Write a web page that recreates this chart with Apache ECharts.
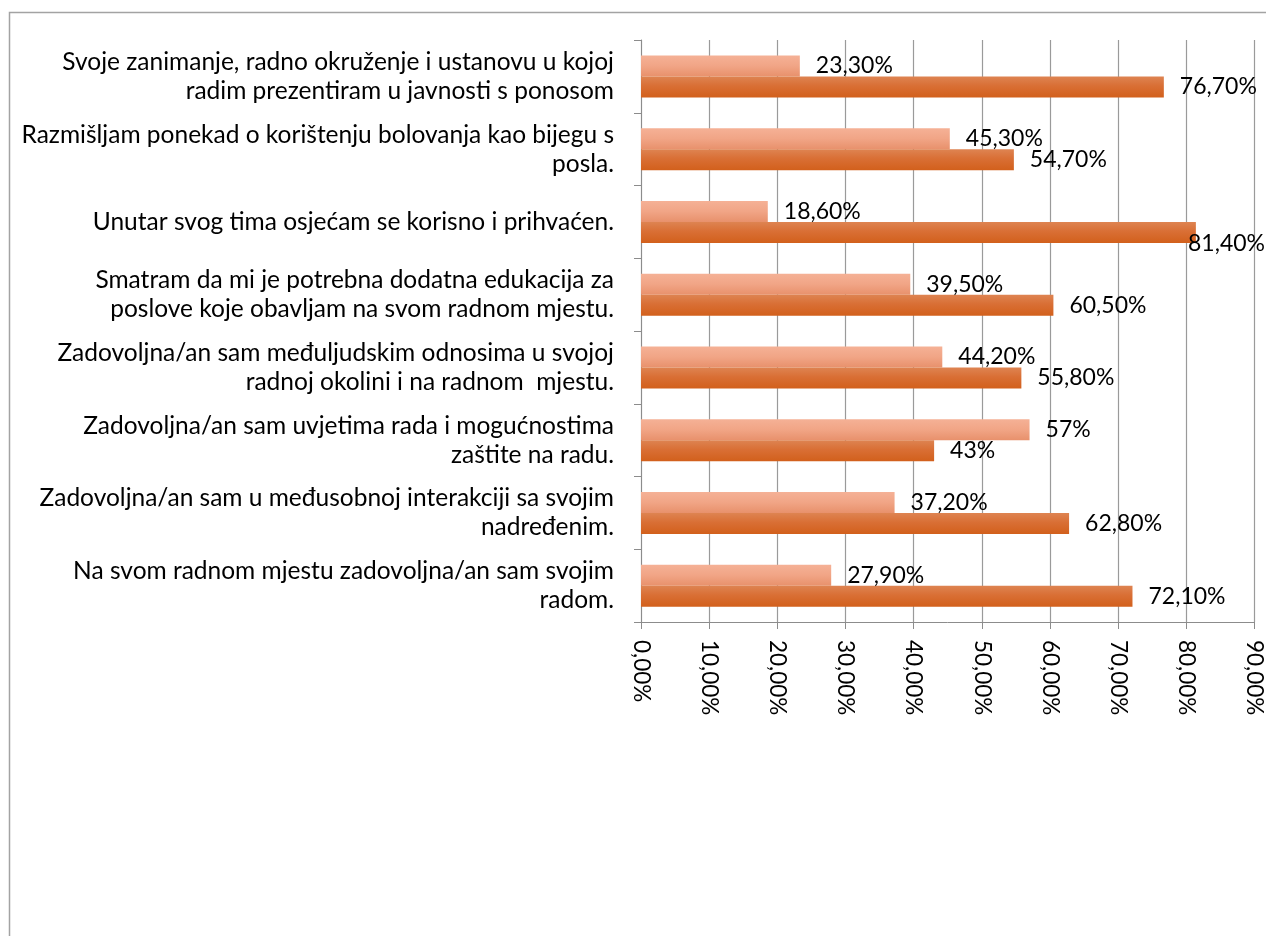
<!DOCTYPE html>
<html>
<head>
<meta charset="utf-8">
<script src="https://cdn.jsdelivr.net/npm/echarts@6/dist/echarts.min.js"></script>
<style>
html,body{margin:0;padding:0;background:#fff;}
#chart{width:1266px;height:936px;}
</style>
</head>
<body>
<div id="chart"></div>
<script>
// Categories listed bottom to top (ECharts category y axis runs upward)
const categories = [
  "Na svom radnom mjestu zadovoljna/an sam svojim\nradom.",
  "Zadovoljna/an sam u međusobnoj interakciji sa svojim\nnadređenim.",
  "Zadovoljna/an sam uvjetima rada i mogućnostima\nzaštite na radu.",
  "Zadovoljna/an sam međuljudskim odnosima u svojoj\nradnoj okolini i na radnom  mjestu.",
  "Smatram da mi je potrebna dodatna edukacija za\nposlove koje obavljam na svom radnom mjestu.",
  "Unutar svog tima osjećam se korisno i prihvaćen.",
  "Razmišljam ponekad o korištenju bolovanja kao bijegu s\nposla.",
  "Svoje zanimanje, radno okruženje i ustanovu u kojoj\nradim prezentiram u javnosti s ponosom"
];
const seriesLight = [27.9, 37.2, 57, 44.2, 39.5, 18.6, 45.3, 23.3];
const seriesDark  = [72.1, 62.8, 43, 55.8, 60.5, 81.4, 54.7, 76.7];
const valueLabelsLight = ["27,90%", "37,20%", "57%", "44,20%", "39,50%", "18,60%", "45,30%", "23,30%"];
const valueLabelsDark  = ["72,10%", "62,80%", "43%", "55,80%", "60,50%", "81,40%", "54,70%", "76,70%"];
const xMin = 0, xMax = 90, xInterval = 10;

const FONT = "Lato, 'Open Sans', sans-serif";
const chart = echarts.init(document.getElementById('chart'), null, {renderer: 'canvas'});
const W = 1266;

function fitLabel(params) {
  const r = params.labelRect;
  if (r.x + r.width > W) {
    return { x: W - r.width - 1 };
  }
  return {};
}

chart.setOption({
  animation: false,
  backgroundColor: '#ffffff',
  graphic: [{
    type: 'rect',
    shape: { x: 9.5, y: 12.5, width: 1400, height: 1100 },
    style: { fill: 'none', stroke: '#a3a3a3', lineWidth: 1.5 },
    silent: true,
    z: -10
  }],
  grid: { left: 641, right: 7, top: 40, bottom: 314, containLabel: false },
  xAxis: {
    type: 'value',
    min: xMin, max: xMax, interval: xInterval,
    axisLine: { show: true, lineStyle: { color: '#8c8c8c', width: 1 } },
    axisTick: { show: true, length: 7, lineStyle: { color: '#8c8c8c' } },
    splitLine: { show: true, lineStyle: { color: '#9a9a9a', width: 1.2 } },
    axisLabel: {
      rotate: -90,
      margin: 18,
      fontFamily: FONT,
      fontSize: 22.5,
      color: '#000',
      formatter: v => v.toFixed(2).replace('.', ',') + '%'
    }
  },
  yAxis: {
    type: 'category',
    data: categories,
    axisLine: { show: true, lineStyle: { color: '#8c8c8c', width: 1 } },
    axisTick: { show: true, length: 7, lineStyle: { color: '#8c8c8c' } },
    axisLabel: {
      fontFamily: FONT,
      fontSize: 24.5,
      lineHeight: 29,
      color: '#000',
      align: 'right',
      margin: 27
    }
  },
  series: [
    {
      name: 'light',
      type: 'bar',
      data: seriesLight,
      barWidth: 21,
      barGap: '0%',
      itemStyle: {
        color: new echarts.graphic.LinearGradient(0, 0, 0, 1, [
          { offset: 0, color: '#f5b196' },
          { offset: 0.5, color: '#f1a586' },
          { offset: 1, color: '#e8916c' }
        ])
      },
      label: {
        show: true, position: 'right', distance: 16,
        fontFamily: FONT, fontSize: 23, color: '#000',
        formatter: p => valueLabelsLight[p.dataIndex]
      }
    },
    {
      name: 'dark',
      type: 'bar',
      data: seriesDark,
      barWidth: 21,
      barGap: '0%',
      itemStyle: {
        color: new echarts.graphic.LinearGradient(0, 0, 0, 1, [
          { offset: 0, color: '#de8452' },
          { offset: 0.45, color: '#d96f35' },
          { offset: 1, color: '#d2601c' }
        ])
      },
      label: {
        show: true, position: 'right', distance: 16,
        fontFamily: FONT, fontSize: 23, color: '#000',
        formatter: p => valueLabelsDark[p.dataIndex]
      },
      labelLayout: fitLabel
    }
  ]
});
</script>
</body>
</html>
